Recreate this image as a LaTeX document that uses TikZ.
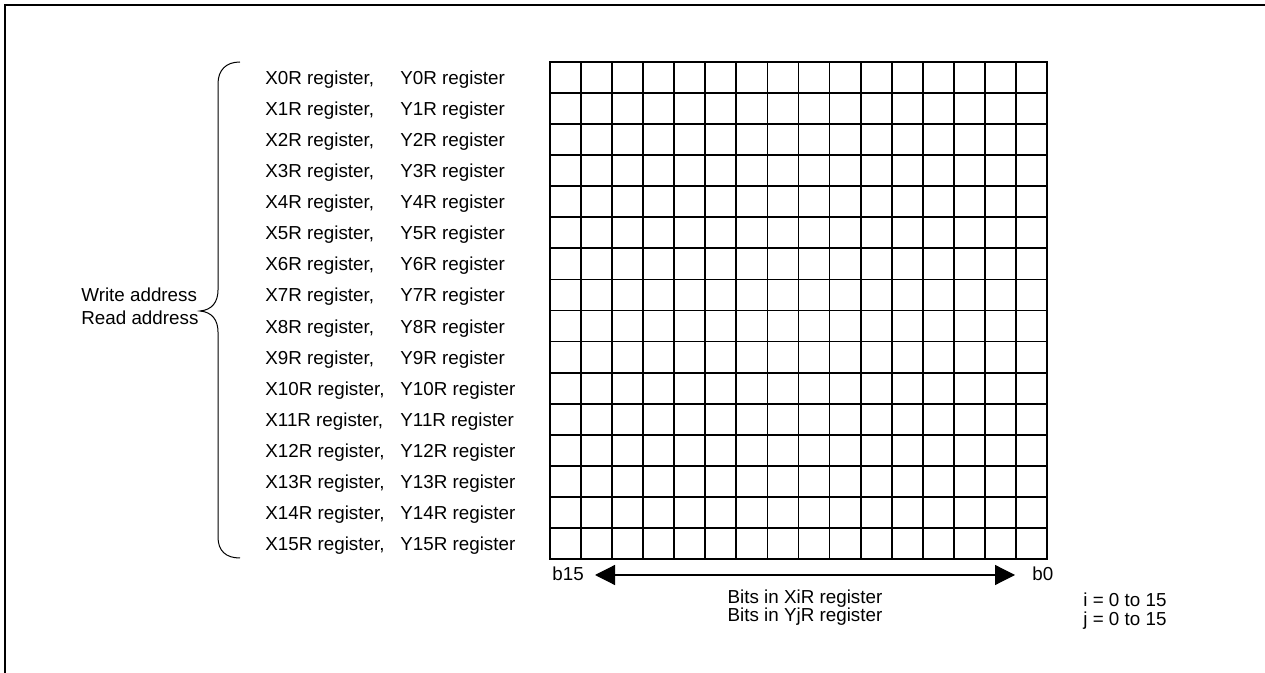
\documentclass[tikz,border=0pt]{standalone}
\usepackage{fontspec}
\setmainfont{Liberation Sans}
\usetikzlibrary{arrows.meta}
\begin{document}
\begin{tikzpicture}[x=0.5pt,y=-0.5pt,
  lbl/.style={inner sep=0pt, font=\fontsize{9.4}{11}\selectfont},
  gridline/.style={line width=0.9pt, line cap=rect},
  framebox/.style={line width=1pt},
  bracel/.style={line width=0.5pt},
  bitarrow/.style={line width=0.6pt, {Triangle[length=10pt,width=10pt]}-{Triangle[length=10pt,width=10pt]}}]
\useasboundingbox (0,0) rectangle (1265,673);
\clip (0,0) rectangle (1265,673);
\draw[framebox] (5,5) rectangle (1300,700);
% grid
\foreach \i in {0,...,16} {
  \draw[gridline] ({550+\i*31.0625},62) -- ({550+\i*31.0625},559);
  \draw[gridline] (550,{62+\i*31.0625}) -- (1047,{62+\i*31.0625});
}
% row labels
\foreach \k in {0,...,15} {
  \node[lbl, anchor=base west] (x\k) at (265,{62+31.0625*(\k+0.5)+7}) {X\k R register,};
  \node[lbl, anchor=base west] (y\k) at (400,{62+31.0625*(\k+0.5)+7}) {Y\k R register};
}
% brace
\draw[bracel] (240,62) .. controls (226,62) and (218,70) .. (218,84) -- (218,290)
  .. controls (218,302) and (212,310) .. (200,311)
  .. controls (212,312) and (218,320) .. (218,332) -- (218,537)
  .. controls (218,551) and (226,558) .. (240,558);
\node[lbl, anchor=base west] (wa) at (81,301.5) {Write address};
\node[lbl, anchor=base west] (ra) at (81,324.5) {Read address};
% bits arrow
\node[lbl, anchor=base west] (b15) at (552,581) {b15};
\node[lbl, anchor=base west] (b0) at (1032,581) {b0};
\coordinate (al) at (595,575);
\coordinate (ar) at (1015,575);
\draw[bitarrow] (al) -- (ar);
\node[lbl, anchor=base] (bx) at (805,604) {Bits in XiR register};
\node[lbl, anchor=base] (by) at (805,622) {Bits in YjR register};
\node[lbl, anchor=base west] (ii) at (1083,607) {i = 0 to 15};
\node[lbl, anchor=base west] (jj) at (1083,626) {j = 0 to 15};
\end{tikzpicture}
\end{document}
